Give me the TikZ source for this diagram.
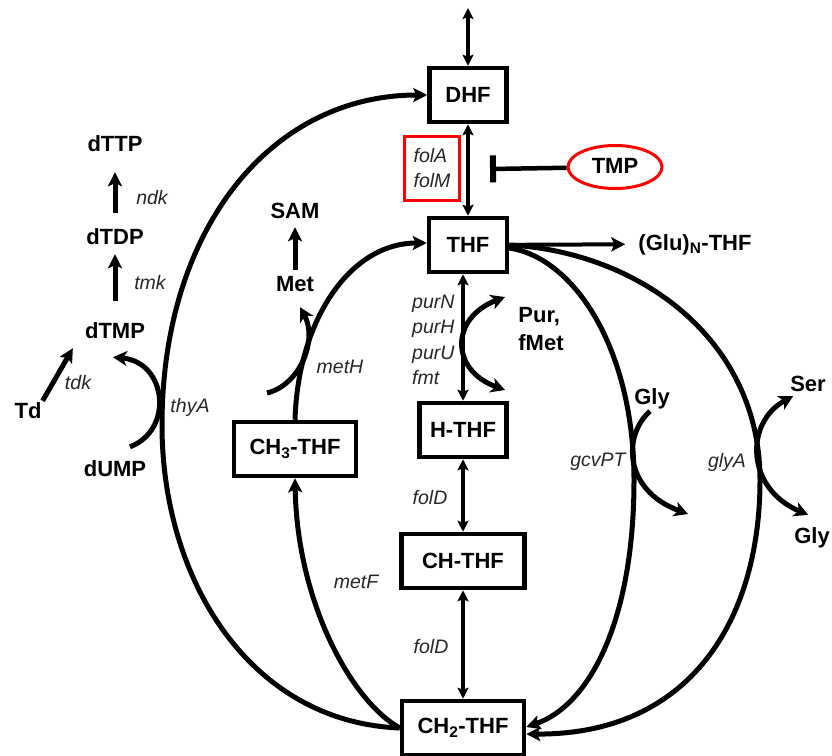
\documentclass[tikz,border=0pt]{standalone}
\usepackage{fontspec}
\setmainfont{Liberation Sans}
\usetikzlibrary{positioning,arrows.meta,shapes.geometric}
\tikzset{
  fol/.style={draw,line width=4.5pt,minimum height=54pt,inner sep=2pt,
              font=\fontsize{22}{24}\selectfont\bfseries},
  metab/.style={inner sep=1pt,text height=16pt,text depth=4pt,
              font=\fontsize{22}{28}\selectfont\bfseries},
  gene/.style={inner sep=1pt,text=black!85,font=\fontsize{19.5}{25.5}\selectfont\itshape},
  flux/.style={line width=5pt,-{Stealth[length=14pt,width=14pt,inset=3pt]}},
  revflux/.style={line width=3.5pt,
              {Stealth[length=11pt,width=11pt,inset=2pt]}-{Stealth[length=11pt,width=11pt,inset=2pt]}},
  sideflux/.style={line width=5pt,-{Stealth[length=14pt,width=15pt,inset=4pt]}},
  sidetwo/.style={line width=5pt,
              {Stealth[length=14pt,width=15pt,inset=4pt]}-{Stealth[length=14pt,width=15pt,inset=4pt]}},
  inhib/.style={line width=4.5pt,-{Bar[width=27pt,line width=6pt]}},
}

\begin{document}
\begin{tikzpicture}[x=1pt,y=-1pt]
  \useasboundingbox (0,0) rectangle (832,755);
  % folate pools
  \node[fol,minimum width=77pt] (DHF) at (468,95) {DHF};
  \node[fol,minimum width=78pt] (THF) at (468,245) {THF};
  \node[fol,minimum width=87pt] (HTHF) at (463,430) {H-THF};
  \node[fol,minimum width=123pt] (CHTHF) at (463,561) {CH-THF};
  \node[fol,minimum width=122pt] (CHtwo) at (463,728) {CH\textsubscript{2}-THF};
  \node[fol,minimum width=122pt] (CHthree) at (295,449) {CH\textsubscript{3}-THF};
  % metabolites
  \node[metab] (dTTP) at (115,145) {dTTP};
  \node[metab] (dTDP) at (115,238) {dTDP};
  \node[metab] (dTMP) at (115,332) {dTMP};
  \node[metab] (Td) at (28,412) {Td};
  \node[metab] (dUMP) at (115,470) {dUMP};
  \node[metab] (SAM) at (295,212) {SAM};
  \node[metab] (Met) at (295,285) {Met};
  \node[metab] (Glu) at (695,244) {(Glu)\textsubscript{N}-THF};
  \node[metab,align=left,text height=,text depth=] (Pur) at (541,329) {Pur,\\fMet};
  \node[metab] (GlyA) at (652,398) {Gly};
  \node[metab] (Ser) at (808,385) {Ser};
  \node[metab] (GlyB) at (812,537) {Gly};
  \node[metab,draw=red,line width=3pt,ellipse,minimum width=94pt,minimum height=43pt] (TMP) at (615,167) {TMP};
  % enzymes
  \node[gene] (ndk) at (152,198) {ndk};
  \node[gene] (tmk) at (150,283) {tmk};
  \node[gene] (tdk) at (78,383) {tdk};
  \node[gene] (thyA) at (190,407) {thyA};
  \node[gene] (metH) at (340,367) {metH};
  \node[gene] (metF) at (356,582) {metF};
  \node[gene,draw=red,line width=3pt,align=left,minimum width=55pt,minimum height=64pt] (folAM) at (432,168) {folA\\folM};
  \node[gene,align=left,anchor=west] (pur) at (411,340) {purN\\purH\\purU\\fmt};
  \node[gene] (folDa) at (430,498) {folD};
  \node[gene] (folDb) at (431,647) {folD};
  \node[gene] (gcvPT) at (598,462) {gcvPT};
  \node[gene] (glyA) at (727,462) {glyA};
  % free ends
  \coordinate (dhfOut) at (468,8);
  \coordinate (tmpBar) at (490,169);
  \coordinate (hcy) at (267,393);
  \coordinate (purA) at (505,297);
  \coordinate (purB) at (505,390);
  \coordinate (gcvOut) at (688,514);

  % reversible steps
  \draw[revflux,line width=4pt] (DHF) -- (dhfOut);
  \draw[revflux] (DHF) -- (THF);
  \draw[revflux] (HTHF.north) -- (HTHF.north |- THF.south);
  \draw[revflux] (HTHF) -- (CHTHF);
  \draw[revflux] (CHTHF) -- (CHtwo);
  \draw[inhib] (TMP) -- (tmpBar);
  \draw[flux,line width=4pt,shorten >=12pt] (THF) -- (Glu);

  % cycle
  \draw[flux] (CHtwo.west) .. controls (250,722) and (162,580) .. (162,425)
        .. controls (162,230) and (270,95) .. (DHF.west);
  \draw[flux] (CHtwo.west) .. controls (350,700) and (297,600) .. (CHthree.south);
  \draw[flux] (CHthree.north) .. controls (298,320) and (350,243) .. ([yshift=2pt]THF.west);
  \draw[flux] ([yshift=-3pt]THF.east) .. controls (575,258) and (634,350) .. (634,480)
        .. controls (634,620) and (590,705) .. ([yshift=1pt]CHtwo.east);
  \draw[flux] (THF.east) .. controls (640,252) and (760,340) .. (760,480)
        .. controls (760,620) and (690,735) .. ([yshift=-6pt]CHtwo.east);

  % side reactions
  \draw[flux,shorten <=20pt,shorten >=5pt] (dTMP) -- (dTDP);
  \draw[flux,shorten <=14pt,shorten >=16pt] (dTDP) -- (dTTP);
  \draw[flux] (Td.north east) -- ([xshift=-11pt,yshift=-5pt]dTMP.south west);
  \draw[flux,shorten <=4pt,shorten >=4pt] (Met) -- (SAM);
  \draw[sideflux] ([xshift=15pt,yshift=12pt]dUMP.north) .. controls (174,430) and (167,362)
        .. ([xshift=-2pt,yshift=-14pt]dTMP.south);
  \draw[sideflux] (hcy) .. controls (300,385) and (318,340) .. ([xshift=5pt,yshift=-11pt]Met.south);
  \draw[sidetwo] (purA) .. controls (450,318) and (450,370) .. (purB);
  \draw[sideflux] ([xshift=-2pt,yshift=-2pt]GlyA.south) .. controls (623,435) and (623,490) .. (gcvOut);
  \draw[sidetwo] ([xshift=4pt]Ser.south west)
        .. controls (745,422) and (745,488) .. ([xshift=-4pt,yshift=11pt]GlyB.north);
\end{tikzpicture}
\end{document}
